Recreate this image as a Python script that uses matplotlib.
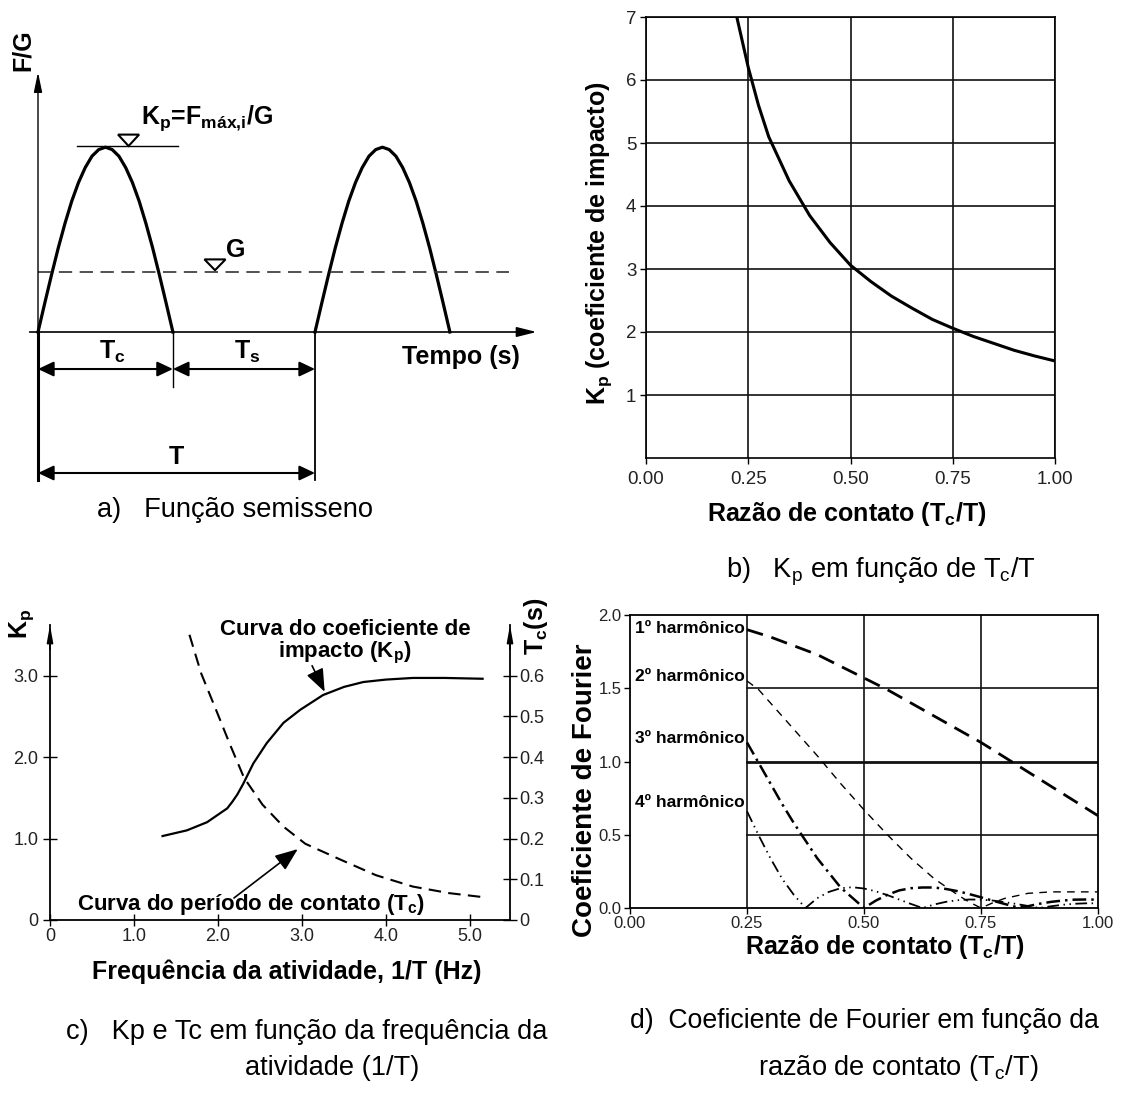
import matplotlib
matplotlib.use('Agg')
import matplotlib.pyplot as plt
import numpy as np
from matplotlib.patches import Polygon

plt.rcParams['font.family'] = ['Liberation Sans', 'DejaVu Sans']
plt.rcParams['mathtext.fontset'] = 'custom'
plt.rcParams['mathtext.rm'] = 'Liberation Sans'
plt.rcParams['mathtext.bf'] = 'Liberation Sans:bold'

# ---- dados ----
# (a) funcao semisseno (F/G ao longo de um pulso, t/Tc)
pulse_frac = [0, 0.05, 0.1, 0.15, 0.2, 0.25, 0.3, 0.35, 0.4, 0.45, 0.5,
              0.55, 0.6, 0.65, 0.7, 0.75, 0.8, 0.85, 0.9, 0.95, 1.0]
pulse_fg = [0, 0.48, 0.95, 1.40, 1.81, 2.18, 2.49, 2.74, 2.93, 3.04, 3.08,
            3.04, 2.93, 2.74, 2.49, 2.18, 1.81, 1.40, 0.95, 0.48, 0]
tc_ratio = 0.487
pulse_starts = [0.0, 1.0]
g_level = 1.0
kp_level = 3.1

# (b) Kp x Tc/T
ratio_b = [0.222, 0.25, 0.275, 0.30, 0.35, 0.40, 0.45, 0.50, 0.55, 0.60,
           0.65, 0.70, 0.75, 0.80, 0.85, 0.90, 0.95, 1.00]
kp_b = [7.0, 6.2, 5.6, 5.1, 4.4, 3.85, 3.42, 3.06, 2.8, 2.57,
        2.38, 2.2, 2.06, 1.93, 1.82, 1.71, 1.62, 1.54]

# (c) Kp e Tc x frequencia
freq_kp = [1.34, 1.63, 1.87, 2.11, 2.17, 2.23, 2.30, 2.42, 2.58, 2.78, 2.98, 3.25, 3.50,
           3.73, 4.0, 4.32, 4.7, 5.15]
kp_c = [1.03, 1.10, 1.20, 1.37, 1.45, 1.54, 1.67, 1.92, 2.17, 2.42, 2.58, 2.76, 2.86,
        2.92, 2.95, 2.97, 2.97, 2.96]
freq_tc = [1.66, 1.80, 1.98, 2.14, 2.31, 2.53, 2.78, 3.04, 3.46, 3.88, 4.32, 4.75, 5.2]
tc_c = [0.70, 0.605, 0.514, 0.432, 0.349, 0.283, 0.229, 0.187, 0.148, 0.11, 0.082, 0.066, 0.055]

# (d) coeficientes de Fourier x Tc/T
ratio_h1 = [0.25, 0.30, 0.35, 0.40, 0.45, 0.50, 0.55, 0.60, 0.65, 0.70, 0.75, 0.80, 0.85, 0.90, 0.95, 1.0]
h1 = [1.90, 1.85, 1.79, 1.73, 1.65, 1.57, 1.49, 1.40, 1.31, 1.22, 1.13, 1.03, 0.93, 0.83, 0.73, 0.63]
ratio_h2 = [0.25, 0.275, 0.30, 0.35, 0.40, 0.45, 0.50, 0.55, 0.60, 0.65, 0.70, 0.725, 0.75, 0.775,
            0.80, 0.85, 0.90, 0.95, 1.0]
h2 = [1.55, 1.49, 1.40, 1.22, 1.04, 0.85, 0.67, 0.50, 0.34, 0.20, 0.09, 0.04, 0.0, 0.035,
      0.065, 0.10, 0.11, 0.11, 0.11]
ratio_h34 = [0.25, 0.275, 0.3, 0.325, 0.35, 0.375, 0.4, 0.425, 0.45, 0.475, 0.5, 0.525, 0.55,
             0.575, 0.6, 0.625, 0.65, 0.675, 0.7, 0.725, 0.75, 0.775, 0.8, 0.825, 0.85, 0.875,
             0.9, 0.925, 0.95, 0.975, 1.0]
h3 = [1.13, 0.99, 0.85, 0.71, 0.58, 0.46, 0.34, 0.24, 0.14, 0.07, 0.0, 0.05, 0.09, 0.12, 0.135,
      0.14, 0.14, 0.13, 0.115, 0.095, 0.073, 0.05, 0.028, 0.007, 0.012, 0.029, 0.042, 0.051,
      0.057, 0.058, 0.057]
h4 = [0.66, 0.495, 0.34, 0.2, 0.09, 0.0, 0.067, 0.11, 0.135, 0.142, 0.133, 0.114, 0.088, 0.058,
      0.028, 0.0, 0.024, 0.042, 0.053, 0.058, 0.057, 0.051, 0.04, 0.028, 0.014, 0.0, 0.012,
      0.022, 0.029, 0.032, 0.032]
harm_names = ['1º harmônico', '2º harmônico', '3º harmônico', '4º harmônico']

W, H = 1121, 1096
fig = plt.figure(figsize=(W / 100, H / 100), dpi=100)


def rect(l, t, r, b):
    return [l / W, 1 - b / H, (r - l) / W, (b - t) / H]


def ftext(x, y, s, **kw):
    fig.text(x / W, 1 - y / H, s, **kw)


def arrow(ax, p0, p1, style, lw=1.2):
    ax.annotate('', xy=p1, xytext=p0, annotation_clip=False,
                arrowprops=dict(arrowstyle=style, color='k', lw=lw, shrinkA=0, shrinkB=0))


bold = dict(fontsize=18, fontweight='bold')
cap = 19.6

# ================= (a) =================
axa = fig.add_axes(rect(0, 0, 560, 500))
axa.set_xlim(-38 / 277, 522 / 277)
axa.set_ylim(-168 / 60, 332 / 60)
axa.axis('off')

for s in pulse_starts:
    axa.plot(s + np.array(pulse_frac) * tc_ratio, pulse_fg, color='k', lw=2.3)

arrow(axa, (-0.03, 0), (1.80, 0), '-|>,head_length=1.2,head_width=0.3', lw=1.2)
arrow(axa, (0, 0), (0, 4.33), '-|>,head_length=1.2,head_width=0.25', lw=1.0)
axa.plot([0, 1.70], [g_level, g_level], color='#333', lw=1.2, dashes=(8, 4.5))
axa.plot([0.141, 0.504], [kp_level, kp_level], color='k', lw=1.0)

axa.plot([0, 0], [0, -2.47], color='k', lw=2.2)
axa.plot([1, 1], [0, -2.47], color='k', lw=1.3)
axa.plot([tc_ratio, tc_ratio], [0, -0.92], color='k', lw=1.0)

dim = '<|-|>,head_length=0.95,head_width=0.45'
arrow(axa, (0, -0.617), (tc_ratio, -0.617), dim, lw=1.5)
arrow(axa, (tc_ratio, -0.617), (1, -0.617), dim, lw=1.5)
arrow(axa, (0, -2.35), (1, -2.35), dim, lw=1.5)

for xc, ytop, ybot in [(0.327, 3.29, 3.1), (0.639, 1.21, 1.03)]:
    axa.add_patch(Polygon([(xc - 0.038, ytop), (xc + 0.038, ytop), (xc, ybot)],
                          closed=True, fc='white', ec='k', lw=1.5))

axa.text(0.27, -0.333, r'T$_\mathregular{c}$', ha='center', va='center', **bold)
axa.text(0.755, -0.333, r'T$_\mathregular{s}$', ha='center', va='center', **bold)
axa.text(0.498, -2.083, 'T', ha='center', va='center', **bold)
axa.text(1.527, -0.417, 'Tempo (s)', ha='center', va='center', **bold)
axa.text(0.715, 1.37, 'G', ha='center', va='center', **bold)
axa.text(0.372, 3.57, r'K$_\mathregular{p}$=F$_\mathregular{máx{,}i}$/G', ha='left', va='center', **bold)
axa.text(-0.054, 4.7, 'F/G', ha='center', va='center', rotation=90, **bold)

ftext(97, 510, 'a)   Função semisseno', fontsize=cap, va='center', ha='left')

# ================= (b) =================
axb = fig.add_axes(rect(646, 17, 1055, 458))
axb.set_xlim(0, 1)
axb.set_ylim(0, 7)
axb.plot(ratio_b, kp_b, color='k', lw=2.2)
axb.set_xticks([0, 0.25, 0.5, 0.75, 1.0])
axb.set_xticklabels(['0.00', '0.25', '0.50', '0.75', '1.00'])
axb.set_yticks([1, 2, 3, 4, 5, 6, 7])
axb.grid(True, color='#111', lw=1.2)
for sp in axb.spines.values():
    sp.set_linewidth(1.2)
axb.tick_params(direction='out', length=4, width=1, labelsize=13.5, labelcolor='#222')
axb.tick_params(axis='x', pad=5)
axb.tick_params(axis='y', pad=3)
ftext(599, 243, r'K$_\mathregular{p}$ (coeficiente de impacto)', rotation=90,
      ha='center', va='center', **bold)
ftext(847, 514, r'Razão de contato (T$_\mathregular{c}$/T)', ha='center', va='center', **bold)
ftext(726, 572, r'b)   K$_\mathregular{p}$ em função de T$_\mathregular{c}$/T', fontsize=cap,
      ha='left', va='center')

# ================= (c) =================
axc = fig.add_axes(rect(50, 625, 510, 920))
ytop = 295 / 81.5
xright = 460 / 84
axc.set_xlim(0, xright)
axc.set_ylim(0, ytop)
axc.plot(freq_kp, kp_c, color='k', lw=1.6)
axc.spines['top'].set_visible(False)
axc.spines['right'].set_visible(False)
axc.set_xticks([0, 1, 2, 3, 4, 5])
axc.set_xticklabels(['0', '1.0', '2.0', '3.0', '4.0', '5.0'])
axc.set_yticks([0, 1, 2, 3])
axc.set_yticklabels(['0', '1.0', '2.0', '3.0'])
axc.tick_params(direction='inout', length=10, width=1, labelsize=13, labelcolor='#222')
axc.tick_params(axis='x', length=8, pad=2)

axc2 = axc.twinx()
axc2.set_ylim(0, ytop / 5)
axc2.plot(freq_tc, tc_c, color='k', lw=1.5, dashes=(6, 3.5))
for k in ['top', 'left', 'bottom']:
    axc2.spines[k].set_visible(False)
axc2.set_yticks([0, 0.1, 0.2, 0.3, 0.4, 0.5, 0.6])
axc2.set_yticklabels(['0', '0.1', '0.2', '0.3', '0.4', '0.5', '0.6'])
axc2.tick_params(direction='inout', length=10, width=1, labelsize=13, labelcolor='#222', pad=2)
for sp in list(axc.spines.values()) + list(axc2.spines.values()):
    sp.set_linewidth(1.3)

arrow(axc, (0, ytop - 0.3), (0, ytop), '-|>,head_length=1.0,head_width=0.18', lw=1.2)
arrow(axc, (xright, ytop - 0.3), (xright, ytop), '-|>,head_length=1.0,head_width=0.18', lw=1.2)

big = '-|>,head_length=1.4,head_width=0.55'
arrow(axc, (3.12, 3.12), (3.27, 2.80), big, lw=1.2)
arrow(axc, (2.19, 0.27), (2.95, 0.87), big, lw=1.2)
axc.text(3.51, 3.40, 'Curva do coeficiente de\n' + r'impacto (K$_\mathregular{p}$)', ha='center',
         va='center', fontsize=16, fontweight='bold', linespacing=1.0)
axc.text(2.39, 0.196, r'Curva do período de contato (T$_\mathregular{c}$)', ha='center',
         va='center', fontsize=16, fontweight='bold')

ftext(22, 624, r'K$_\mathregular{p}$', rotation=90, ha='center', va='center', **bold)
ftext(536, 626, r'T$_\mathregular{c}$(s)', rotation=90, ha='center', va='center', **bold)
ftext(287, 972, 'Frequência da atividade, 1/T (Hz)', ha='center', va='center', **bold)
ftext(66, 1032, 'c)   Kp e Tc em função da frequência da', fontsize=cap, ha='left', va='center')
ftext(332, 1068, 'atividade (1/T)', fontsize=cap, ha='center', va='center')

# ================= (d) =================
axd = fig.add_axes(rect(630, 615, 1098, 908))
axd.set_xlim(0, 1)
axd.set_ylim(0, 2)
for x in [0.25, 0.5, 0.75]:
    axd.axvline(x, color='#111', lw=1.2)
for y in [0.5, 1.0, 1.5]:
    axd.axhline(y, xmin=0.25, xmax=1, color='#111', lw=2.0 if y == 1.0 else 1.2)
axd.plot(ratio_h1, h1, color='k', lw=2.0, linestyle=(0, (6, 3.2)))
axd.plot(ratio_h2, h2, color='k', lw=1.0, linestyle=(0, (5.5, 4.5)))
axd.plot(ratio_h34, h3, color='k', lw=1.8, linestyle=(0, (5.5, 2, 1, 2)))
axd.plot(ratio_h34, h4, color='k', lw=1.3, linestyle=(0, (6.5, 2.5, 0.8, 2.5, 0.8, 2.5)))
axd.set_xticks([0, 0.25, 0.5, 0.75, 1.0])
axd.set_xticklabels(['0.00', '0.25', '0.50', '0.75', '1.00'])
axd.set_yticks([0, 0.5, 1.0, 1.5, 2.0])
axd.set_yticklabels(['0.0', '0.5', '1.0', '1.5', '2.0'])
for sp in axd.spines.values():
    sp.set_linewidth(1.3)
axd.tick_params(direction='out', length=4, width=1, labelsize=12, labelcolor='#222', pad=2)
for name, y in zip(harm_names, [1.91, 1.577, 1.16, 0.717]):
    axd.text(0.245, y, name, ha='right', va='center', fontsize=12.5, fontweight='bold')

ftext(585, 790, 'Coeficiente de Fourier', rotation=90, ha='center', va='center',
      fontsize=20, fontweight='bold')
ftext(885, 947, r'Razão de contato (T$_\mathregular{c}$/T)', ha='center', va='center', **bold)
ftext(630, 1021, 'd)  Coeficiente de Fourier em função da', fontsize=19.2, ha='left', va='center')
ftext(898, 1068, r'razão de contato (T$_\mathregular{c}$/T)', fontsize=cap, ha='center', va='center')

fig.savefig('out.png', dpi=100)
